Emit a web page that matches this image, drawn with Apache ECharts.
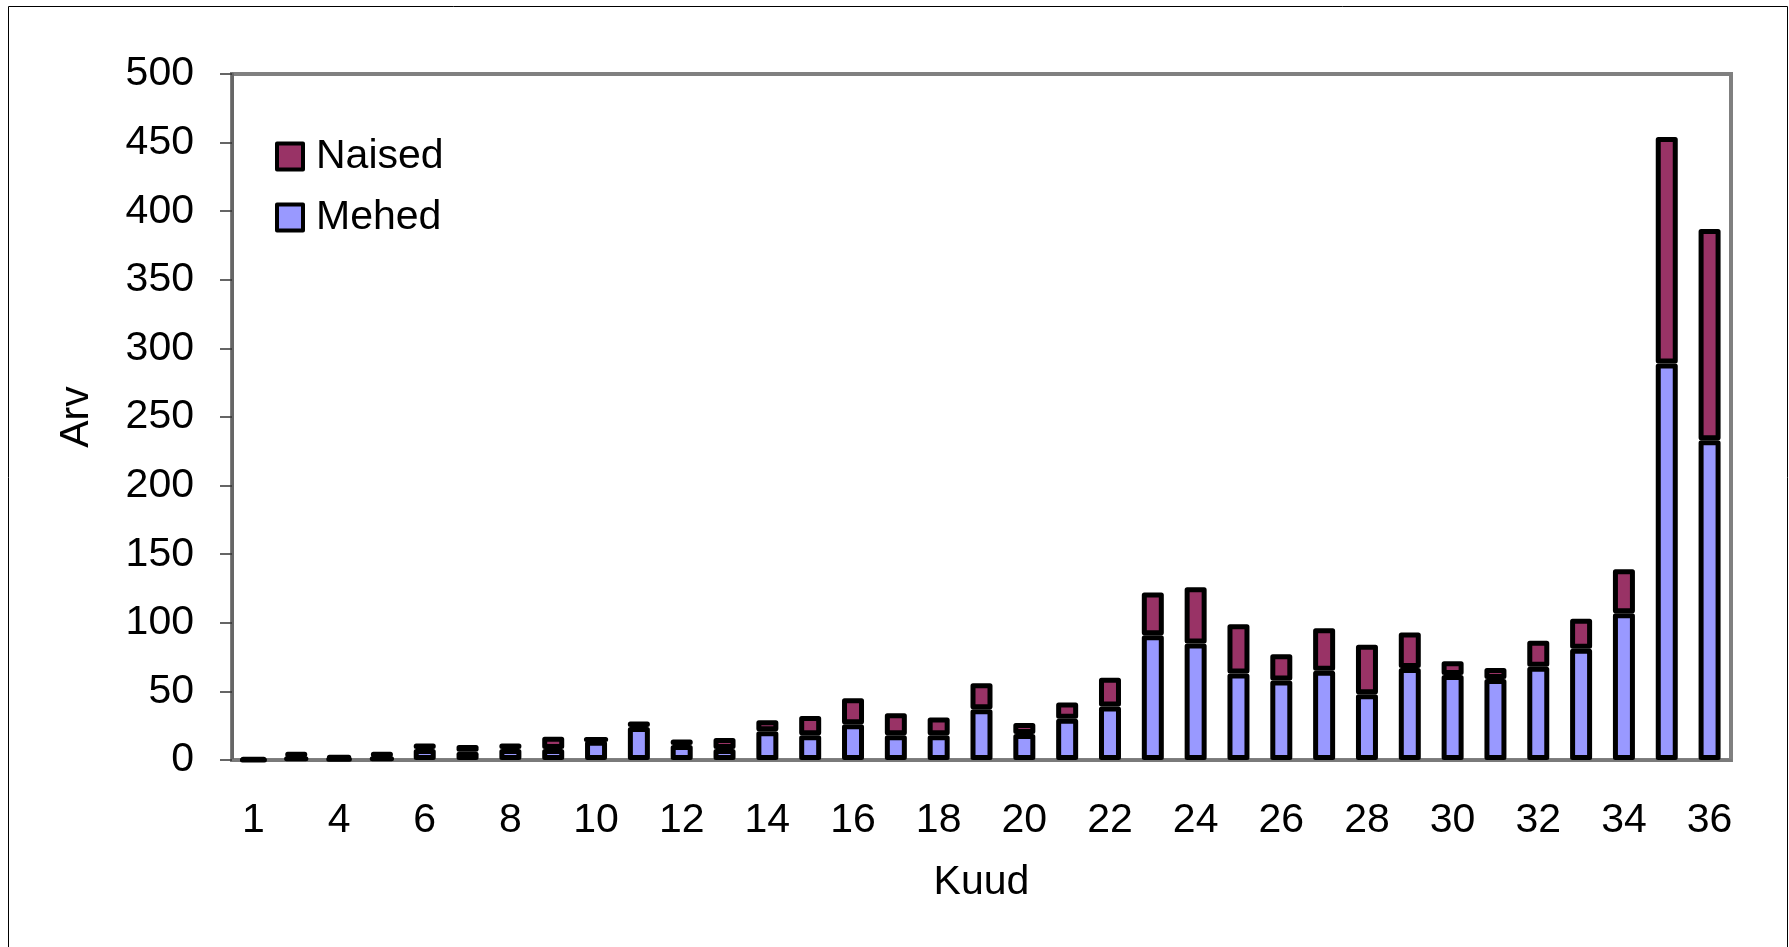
<!DOCTYPE html>
<html>
<head>
<meta charset="utf-8">
<script src="https://cdn.jsdelivr.net/npm/echarts@6/dist/echarts.min.js"></script>
<style>
  html, body { margin: 0; padding: 0; background: #fff; }
  #chart { width: 1789px; height: 947px; }
</style>
</head>
<body>
<div id="chart"></div>
<script>
// kuud (months) - 2 is missing in the source table
const months = ['1', '3', '4', '5', '6', '7', '8', '9', '10', '11', '12', '13', '14', '15', '16', '17', '18',
  '19', '20', '21', '22', '23', '24', '25', '26', '27', '28', '29', '30', '31', '32', '33', '34', '35', '36']
const mehed = [0, 2, 1, 2, 8, 6, 8, 8, 14, 24, 11, 8, 21, 18, 26, 18, 18, 37, 19, 30,
  39, 91, 85, 63, 58, 65, 48, 67, 62, 59, 68, 81, 107, 289, 233]
const naised = [1, 4, 2, 4, 4, 5, 4, 9, 2, 4, 4, 8, 8, 14, 19, 16, 13, 19, 8, 12,
  21, 31, 41, 36, 19, 31, 36, 26, 10, 8, 19, 22, 32, 165, 154]

const font = 'Liberation Sans, Arial, sans-serif'
const fs = 41

const chart = echarts.init(document.getElementById('chart'))

const barStyle = (color) => ({
  color: color,
  borderColor: '#000',
  borderWidth: 5,
  borderJoin: 'round'
})

chart.setOption({
  animation: false,
  textStyle: { fontFamily: font, color: '#000' },
  graphic: [{
    type: 'rect',
    shape: { x: 8.5, y: 6.5, width: 1779, height: 960 },
    style: { fill: 'none', stroke: '#000', lineWidth: 1 },
    silent: true,
    z: -1
  }],
  grid: {
    left: 232,
    right: 58,
    top: 74,
    bottom: 187,
    show: true,
    borderColor: '#808080',
    borderWidth: 4
  },
  legend: {
    orient: 'vertical',
    left: 270,
    top: 131,
    data: ['Naised', 'Mehed'],
    icon: 'rect',
    itemWidth: 26,
    itemHeight: 26,
    itemGap: 20,
    itemStyle: { borderColor: '#000', borderWidth: 4 },
    textStyle: { fontFamily: font, fontSize: fs, color: '#000', padding: [0, 0, 0, 8] }
  },
  xAxis: {
    type: 'category',
    data: months,
    name: 'Kuud',
    nameLocation: 'middle',
    nameGap: 102,
    nameTextStyle: { fontSize: fs, color: '#000' },
    axisLine: { lineStyle: { color: '#7a7a7a', width: 3 } },
    axisTick: { interval: 0, length: 12, lineStyle: { color: '#333', width: 1.5 } },
    axisLabel: { interval: 1, fontSize: fs, color: '#000', margin: 40 }
  },
  yAxis: {
    type: 'value',
    min: 0,
    max: 500,
    interval: 50,
    name: 'Arv',
    nameLocation: 'middle',
    nameGap: 135,
    nameTextStyle: { fontSize: fs, color: '#000' },
    splitLine: { show: false },
    axisLine: { show: true, lineStyle: { color: '#666', width: 3 } },
    axisTick: { show: true, length: 12, lineStyle: { color: '#333', width: 1.5 } },
    axisLabel: { fontSize: fs, color: '#000', margin: 38 }
  },
  series: [
    {
      name: 'Mehed',
      type: 'bar',
      stack: 'kokku',
      barWidth: 22,
      data: mehed,
      itemStyle: barStyle('#9999ff')
    },
    {
      name: 'Naised',
      type: 'bar',
      stack: 'kokku',
      barWidth: 22,
      data: naised,
      itemStyle: barStyle('#993366')
    }
  ]
})
</script>
</body>
</html>
